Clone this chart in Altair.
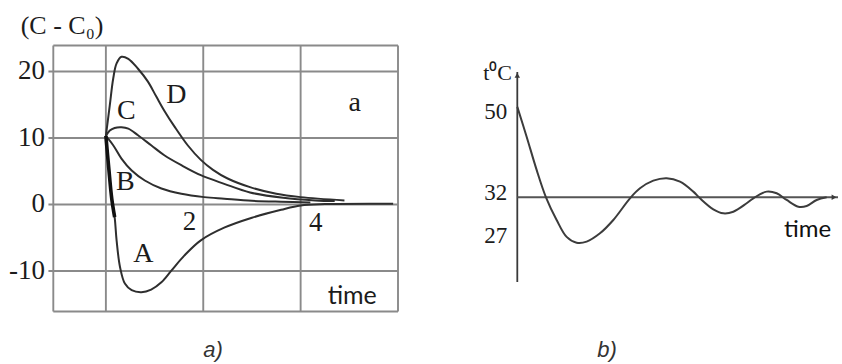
import altair as alt
import pandas as pd

# ---------------- Panel a data ----------------
A_x = [0.0, 0.06, 0.12, 0.18, 0.22, 0.29, 0.39, 0.53, 0.73, 0.93, 1.14, 1.34, 1.61, 1.95, 2.43, 3.0, 3.6, 4.0, 4.5, 5.9]
A_y = [10.3, 5.4, 0.9, -1.9, -5.4, -9.4, -11.9, -12.9, -13.2, -12.8, -11.7, -10.0, -7.7, -5.4, -3.5, -2.0, -0.8, -0.15, 0.05, 0.1]
B_x = [0.0, 0.15, 0.32, 0.53, 0.80, 1.14, 1.55, 2.02, 2.43, 3.0, 3.6, 4.2]
B_y = [10.3, 8.9, 6.9, 5.1, 3.6, 2.4, 1.6, 1.1, 0.86, 0.55, 0.4, 0.3]
C_x = [0.0, 0.08, 0.18, 0.32, 0.46, 0.66, 0.93, 1.20, 1.55, 1.95, 2.43, 2.96, 3.64, 4.3, 4.7]
C_y = [10.3, 11.1, 11.5, 11.6, 11.4, 10.4, 8.9, 7.4, 5.9, 4.4, 3.1, 1.8, 1.0, 0.6, 0.5]
D_x = [0.0, 0.08, 0.15, 0.22, 0.32, 0.46, 0.66, 0.86, 1.03, 1.20, 1.41, 1.68, 1.95, 2.2, 2.5, 2.96, 3.5, 4.0, 4.9]
D_y = [10.3, 14.9, 18.9, 21.2, 22.2, 21.9, 20.4, 18.5, 16.3, 14.1, 11.7, 8.9, 6.7, 5.2, 3.9, 2.6, 1.6, 1.1, 0.6]

A_XTICKS = [0, 2, 4]
A_YTICKS = [20, 10, 0, -10]
A_XDOM = [-1.08, 6.0]
A_YDOM = [-16.1, 23.9]

curve_names = ["A", "B", "C", "D"]
curve_label_x = [0.77, 0.40, 0.42, 1.45]
curve_label_y = [-7.4, 3.35, 14.1, 16.4]

# ---------------- Panel b data ----------------
T_t = [0.0, 0.28, 0.58, 0.86, 1.18, 1.48, 1.78, 2.08, 2.48, 2.88, 3.38, 3.68, 4.08, 4.48, 4.88,
       5.28, 5.48, 5.88, 6.18, 6.48, 6.88, 7.08, 7.48, 7.78, 8.08, 8.43, 8.68, 8.98, 9.28]
T_v = [50.5, 44.4, 37.6, 32.0, 28.85, 26.5, 25.7, 25.85, 27.0, 28.85, 31.86, 33.84, 35.4, 35.9, 35.2,
       33.16, 31.86, 30.33, 29.78, 30.0, 31.17, 31.86, 33.16, 32.82, 31.63, 30.7, 30.8, 31.63, 32.0]
B_TICKS = [50, 32, 27]
B_REF = 32
B_TDOM = [0.0, 9.62]
B_VDOM = [20.24, 27, 32, 50, 57.6]

# ---------------- scales (placement of the two panels) ----------------
def xa(field="x"):
    return alt.X(f"{field}:Q", scale=alt.Scale(domain=A_XDOM, range=[53.3, 398], zero=False, nice=False), axis=None)

def ya(field="y"):
    return alt.Y(f"{field}:Q", scale=alt.Scale(domain=A_YDOM, range=[311.5, 45.5], zero=False, nice=False), axis=None)

def xb(field="x"):
    return alt.X(f"{field}:Q", scale=alt.Scale(domain=B_TDOM, range=[517.3, 838], zero=False, nice=False), axis=None)

def yb(field="y"):
    return alt.Y(f"{field}:Q", scale=alt.Scale(domain=B_VDOM, range=[282, 233.3, 197.3, 109.3, 72], zero=False, nice=False), axis=None)

GRID = "#8a8a8a"
INK = "#1c1c1c"
CURVE = "#2e2e2e"

# ---------------- Panel a layers ----------------
vgrid = pd.DataFrame({"x": [A_XDOM[0]] + A_XTICKS + [A_XDOM[1]]})
vgrid["y"] = A_YDOM[0]
vgrid["y2"] = A_YDOM[1]
vgrid_l = alt.Chart(vgrid).mark_rule(color=GRID, strokeWidth=1.9).encode(
    x=xa(), y=ya(), y2="y2:Q")

hgrid = pd.DataFrame({"y": [A_YDOM[0]] + A_YTICKS + [A_YDOM[1]]})
hgrid["x"] = [A_XDOM[0]] + [A_XDOM[0] - 0.1] * len(A_YTICKS) + [A_XDOM[0]]
hgrid["x2"] = A_XDOM[1]
hgrid_l = alt.Chart(hgrid).mark_rule(color=GRID, strokeWidth=1.9).encode(
    x=xa(), x2="x2:Q", y=ya())

rows = []
for name, xs, ys in zip(curve_names, [A_x, B_x, C_x, D_x], [A_y, B_y, C_y, D_y]):
    for i, (xv, yv) in enumerate(zip(xs, ys)):
        rows.append({"series": name, "x": xv, "y": yv, "i": i})
curves = pd.DataFrame(rows)
curves_l = alt.Chart(curves).mark_line(color=CURVE, strokeWidth=2, interpolate="catmull-rom").encode(
    x=xa(), y=ya(), detail="series:N", order="i:Q")

thick = curves[(curves.series == "A") & (curves.x <= 0.18)]
thick_l = alt.Chart(thick).mark_line(color="#111", strokeWidth=3.6, interpolate="catmull-rom").encode(
    x=xa(), y=ya(), order="i:Q")

letters = pd.DataFrame({"x": curve_label_x + [5.11], "y": curve_label_y + [15.2], "t": curve_names + ["a"]})
letters_l = alt.Chart(letters).mark_text(font="Liberation Serif", fontSize=28, color=INK,
                                         baseline="middle", align="center").encode(
    x=xa(), y=ya(), text="t:N")

xticks = pd.DataFrame({"x": [1.72, 4.31], "y": [-2.7, -2.8], "t": ["2", "4"]})
xticks_l = alt.Chart(xticks).mark_text(font="Liberation Serif", fontSize=27, color=INK,
                                       baseline="middle", align="center").encode(
    x=xa(), y=ya(), text="t:N")

yticks = pd.DataFrame({"y": A_YTICKS, "t": [str(v) for v in A_YTICKS]})
yticks["x"] = A_XDOM[0] - 0.17
yticks_l = alt.Chart(yticks).mark_text(font="Liberation Serif", fontSize=27, color=INK,
                                       baseline="middle", align="right").encode(
    x=xa(), y=ya(), text="t:N")

atitle = pd.DataFrame({"x": [-0.9], "y": [26.9], "t": ["(C - C\u2080)"]})
atitle_l = alt.Chart(atitle).mark_text(font="Liberation Serif", fontSize=26, color=INK,
                                       baseline="middle", align="center").encode(
    x=xa(), y=ya(), text="t:N")

atime = pd.DataFrame({"x": [5.06], "y": [-13.7], "t": ["time"]})
atime_l = alt.Chart(atime).mark_text(font="Lato", fontSize=25, color=INK,
                                     baseline="middle", align="center").encode(
    x=xa(), y=ya(), text="t:N")

# ---------------- Panel b layers ----------------
vaxis = pd.DataFrame({"x": [0.0], "y": [B_VDOM[0]], "y2": [B_VDOM[-1]]})
vaxis_l = alt.Chart(vaxis).mark_rule(color="#3a3a3a", strokeWidth=1.8).encode(
    x=xb(), y=yb(), y2="y2:Q")

haxis = pd.DataFrame({"x": [0.0], "x2": [B_TDOM[1]], "y": [B_REF]})
haxis_l = alt.Chart(haxis).mark_rule(color="#555", strokeWidth=2).encode(
    x=xb(), x2="x2:Q", y=yb())

arrow_up = pd.DataFrame({"x": [0.0], "y": [56.9]})
arrow_up_l = alt.Chart(arrow_up).mark_point(shape="triangle-up", filled=True, size=30,
                                            color="#3a3a3a", opacity=1).encode(x=xb(), y=yb())
arrow_rt = pd.DataFrame({"x": [B_TDOM[1] - 0.12], "y": [B_REF]})
arrow_rt_l = alt.Chart(arrow_rt).mark_point(shape="triangle-right", filled=True, size=30,
                                            color="#3a3a3a", opacity=1).encode(x=xb(), y=yb())

temp = pd.DataFrame({"x": T_t, "y": T_v})
temp_l = alt.Chart(temp).mark_line(color="#3c3c3c", strokeWidth=2, interpolate="catmull-rom").encode(
    x=xb(), y=yb())

bt = pd.DataFrame({"y": B_TICKS, "t": [str(v) for v in B_TICKS]})
bt["x"] = -0.3
bticks_hi = alt.Chart(bt[bt.y != B_REF]).mark_text(font="Liberation Serif", fontSize=23, color=INK,
                                                  baseline="middle", align="right", dy=3).encode(
    x=xb(), y=yb(), text="t:N")
bticks_ref = alt.Chart(bt[bt.y == B_REF]).mark_text(font="Liberation Serif", fontSize=23, color=INK,
                                                   baseline="middle", align="right", dy=-4).encode(
    x=xb(), y=yb(), text="t:N")

btitle = pd.DataFrame({"x": [-0.16], "y": [57.4], "t": ["t\u2070C"]})
btitle_l = alt.Chart(btitle).mark_text(font="Liberation Serif", fontSize=22, color=INK,
                                       baseline="middle", align="right").encode(
    x=xb(), y=yb(), text="t:N")

btime = pd.DataFrame({"x": [8.71], "y": [27.4], "t": ["time"]})
btime_l = alt.Chart(btime).mark_text(font="Lato", fontSize=24, color="#111",
                                     baseline="middle", align="center").encode(
    x=xb(), y=yb(), text="t:N")

# ---------------- captions ----------------
cap_a = alt.Chart(pd.DataFrame({"t": ["a)"]})).mark_text(
    font="Liberation Sans Narrow, Liberation Sans", fontSize=22, fontStyle="italic", color="#333",
    align="center", baseline="alphabetic").encode(x=alt.value(213), y=alt.value(357), text="t:N")
cap_b = alt.Chart(pd.DataFrame({"t": ["b)"]})).mark_text(
    font="Liberation Sans Narrow, Liberation Sans", fontSize=22, fontStyle="italic", color="#333",
    align="center", baseline="alphabetic").encode(x=alt.value(607), y=alt.value(357), text="t:N")

chart = alt.layer(
    vgrid_l, hgrid_l, curves_l, thick_l, letters_l, xticks_l, yticks_l, atitle_l, atime_l,
    vaxis_l, haxis_l, arrow_up_l, arrow_rt_l, temp_l, bticks_hi, bticks_ref, btitle_l, btime_l,
    cap_a, cap_b,
).resolve_scale(x="independent", y="independent").properties(
    width=842, height=364, autosize=alt.AutoSizeParams(type="none"), padding=0,
    background="white",
).configure_view(stroke=None)

chart.save("out.html", embed_options={"renderer": "svg", "actions": False})
